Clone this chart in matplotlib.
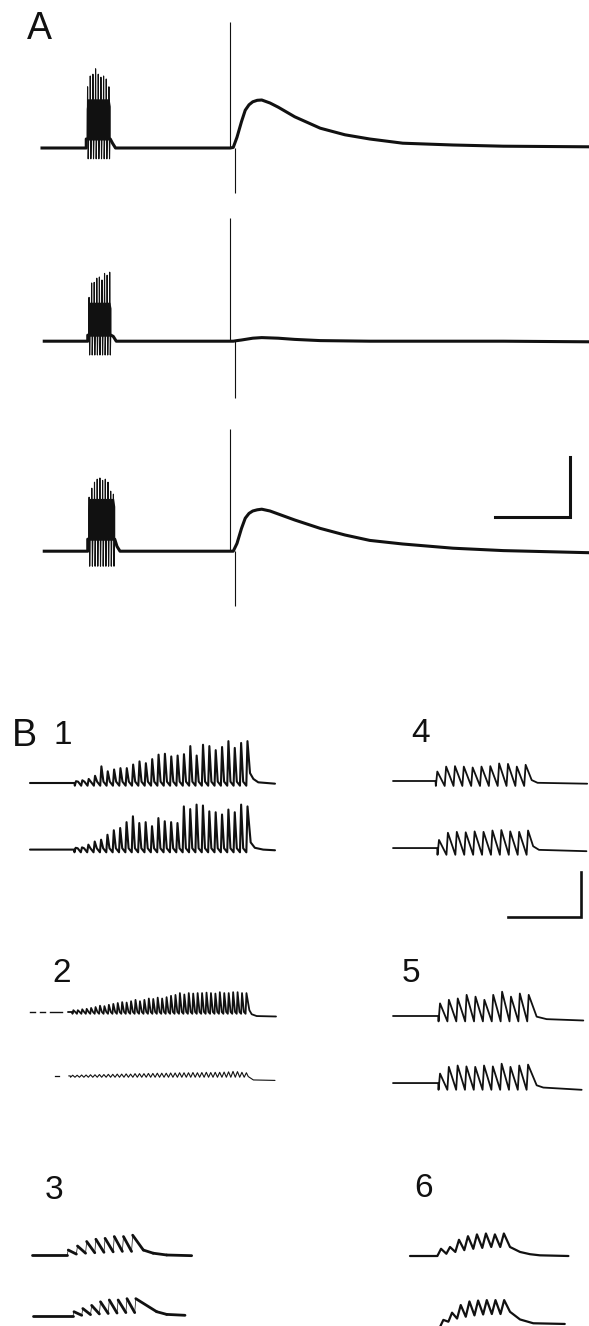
import numpy as np
import matplotlib.pyplot as plt
from matplotlib.collections import LineCollection

W, H = 589, 1326
INK = '#111111'

# ---------------- panel A (ms, mV) ----------------
A_offsets = [0.0, -32.2, -67.2]
A_start = [0, 3, 3]
A_burst_on = [59, 61, 61]
A_burst_off = [91, 92, 97]
A_spike_peaks = [
    [10.2, 12.0, 12.3, 13.2, 12.3, 11.8, 12.0, 11.5, 10.2],
    [7.3, 9.7, 9.8, 10.5, 10.7, 10.2, 11.3, 11.0, 11.5],
    [9.0, 10.5, 11.5, 12.0, 12.2, 11.8, 12.0, 11.5, 10.0, 9.5],
]
A_spike_trough = [-1.8, -2.3, -2.5]
A_body_lo = [1.5, 1.0, 2.0]
A_body_hi = [8.2, 6.5, 8.8]
A_stim_up_t, A_stim_dn_t = 251, 258
A_art_up = [21.0, 20.5, 20.3]
A_art_dn = [-7.5, -9.5, -9.2]
psp_t = [251, 255, 260, 266, 271, 276, 281, 287, 293, 304, 315, 337, 371, 404, 437, 481, 548, 615, 729]
A_psp = [
    [0, 0.1, 1.8, 4.4, 6.3, 7.2, 7.7, 7.95, 8.0, 7.5, 6.8, 5.2, 3.3, 2.2, 1.5, 0.8, 0.5, 0.3, 0.2],
    [0, 0, 0.1, 0.2, 0.3, 0.4, 0.5, 0.55, 0.6, 0.55, 0.5, 0.3, 0.1, 0.05, 0, 0, 0, 0, -0.1],
    [0, 0, 1.3, 3.8, 5.5, 6.3, 6.7, 6.9, 7.0, 6.7, 6.2, 5.2, 3.8, 2.7, 1.8, 1.2, 0.5, 0.1, -0.25],
]
A_bar_t = (604, 704)      # 100 ms
A_bar_v = (-61.5, -51.5)  # 10 mV

# ---------------- panel B (ms, mV) ----------------
B1_top = [0.4, 0.6, 0.9, 1.6, 3.7, 2.6, 3.0, 3.3, 3.3, 4.1, 4.8, 4.4, 5.3, 6.3,
          6.5, 5.9, 6.1, 6.4, 8.2, 6.1, 8.5, 8.2, 7.3, 8.0, 9.3, 7.8, 8.9, 9.3]
B1_bot = [0.4, 0.5, 1.1, 1.8, 2.2, 3.3, 4.3, 4.8, 6.1, 7.4, 5.9, 6.1, 5.2, 7.0,
          6.3, 6.1, 5.9, 9.6, 9.0, 10.0, 9.8, 8.5, 8.3, 7.8, 8.9, 8.3, 10.0, 9.6]
B1_tail_top = [(301.4, 2.2), (306, 0.9), (312.7, 0.15), (335.6, -0.15)]
B1_tail_bot = [(302.3, 1.6), (308, 0.4), (319.4, 0.0), (335.6, -0.15)]

B2_top = [0.4, 0.4, 0.6, 0.7, 0.9, 1.1, 1.4, 1.3, 1.6, 1.8, 2.0, 2.2, 2.1, 2.4,
          2.7, 2.4, 2.7, 3.0, 2.9, 3.2, 3.0, 3.3, 3.6, 3.8, 4.2, 3.9, 4.2, 4.1,
          4.2, 4.2, 4.3, 4.2, 4.1, 4.4, 4.2, 4.2, 4.4, 4.4, 4.2, 4.2]
B2_bot = [0.15, 0.15, 0.2, 0.2, 0.25, 0.25, 0.3, 0.3, 0.35, 0.35, 0.4, 0.4, 0.45,
          0.4, 0.5, 0.5, 0.5, 0.55, 0.55, 0.6, 0.6, 0.6, 0.65, 0.65, 0.7, 0.7,
          0.7, 0.75, 0.7, 0.75, 0.8, 0.75, 0.8, 0.8, 0.85, 0.9, 1.0, 0.95, 0.8, 0.7]
B2_pre_dash = [(0, 7), (14, 21), (27, 44)]
B2_tail_top = [(300.5, 0.4), (303.7, -0.5), (310.5, -0.9), (337, -1.0)]
B2_tail_bot = [(299, -0.15), (306, -0.9), (335.6, -1.0)]

B3_top = [1.1, 2.0, 3.0, 3.5, 3.7, 4.1, 4.1, 4.4]
B3_floor_top = [0, 0.2, 0.4, 0.5, 0.6, 0.7, 0.8, 0.8]
B3_bot = [1.0, 1.7, 2.4, 3.2, 3.6, 3.6, 3.9, 3.9]
B3_floor_bot = [0, 0.2, 0.35, 0.5, 0.6, 0.7, 0.8, 0.8]
B3_tail_top = [(152.5, 1.1), (166, 0.4), (184.5, 0.0), (218.7, -0.15)]
B3_tail_bot = [(170.8, 1.0), (184.5, 0.4), (209.6, 0.2)]

B4_top = [2.1, 3.2, 3.3, 3.2, 3.0, 3.2, 3.3, 3.9, 3.8, 3.2, 3.6]
B4_bot = [1.8, 3.4, 3.6, 3.5, 3.7, 3.6, 3.9, 4.0, 3.7, 3.6, 3.9]
B4_tail_top = [(190, 0.2), (198, -0.4), (266, -0.6)]
B4_tail_bot = [(192, 0.4), (200, -0.4), (265, -0.7)]

B5_top = [2.8, 3.6, 3.9, 4.7, 4.3, 3.6, 4.7, 5.4, 4.3, 5.0, 4.7]
B5_bot = [2.1, 3.6, 3.9, 3.7, 3.6, 3.9, 3.7, 4.3, 3.6, 3.9, 4.1]
B5_tail_top = [(196.8, -0.15), (210.5, -0.7), (260.7, -1.0)]
B5_tail_bot = [(196.8, -0.5), (205.9, -1.0), (258.4, -1.5)]

B6_top = [1.6, 2.0, 3.6, 4.4, 4.8, 5.0, 4.8, 5.0]
B6_floor_top = [0, 0.5, 0.9, 1.3, 1.6, 1.8, 2.0, 2.0]
B6_bot = [0.9, 2.5, 4.2, 5.0, 5.2, 5.3, 5.3, 5.3]
B6_floor_bot = [-0.8, 0.5, 1.2, 1.6, 1.9, 2.1, 2.2, 2.2]
B6_tail_top = [(137, 2.0), (150.7, 0.9), (164.4, 0.4), (178, 0.15), (217, 0)]
B6_tail_bot = [(137, 2.7), (150.7, 1.0), (168.9, 0.15), (212, 0)]

B_bar_t = (157.5, 257.5)  # 100 ms
B_bar_v = (-30.2, -20.2)  # 10 mV

fig = plt.figure(figsize=(W / 100, H / 100), dpi=100)


def place(left, top, right, bottom, x0, y0, pxms, pxmv):
    # axes laid out in figure pixels, data in ms / mV
    ax = fig.add_axes([left / W, 1 - bottom / H, (right - left) / W, (bottom - top) / H])
    ax.set_xlim((left - x0) / pxms, (right - x0) / pxms)
    ax.set_ylim((y0 - bottom) / pxmv, (y0 - top) / pxmv)
    ax.set_axis_off()
    return ax


def build(t_start, pre, first, period, peaks, floors, rise, fall=None, dip=0.0, tail=()):
    t = [t_start, first - rise - 0.4]
    v = [pre, pre]
    for i, a in enumerate(peaks):
        ti = first + i * period
        fl = floors[i] if np.ndim(floors) else floors
        t += [ti - rise, ti]
        v += [fl - dip, a]
        if fall is not None and i < len(peaks) - 1:
            t.append(ti + fall)
            v.append(fl)
    for tt, vv in tail:
        t.append(tt)
        v.append(vv)
    return np.array(t), np.array(v)


def draw(ax, tv, offset, lw, rise_lw=None):
    t, v = tv
    v = v + offset
    if rise_lw is None:
        ax.plot(t, v, color=INK, lw=lw, solid_joinstyle='round', solid_capstyle='round')
        return
    pts = np.column_stack([t, v])
    segs = np.stack([pts[:-1], pts[1:]], axis=1)
    slope = np.diff(v) / np.maximum(np.diff(t), 1e-6)
    widths = np.where(slope > 0.6, rise_lw, lw)
    ax.add_collection(LineCollection(segs, colors=INK, linewidths=widths, capstyle='round'))


# ---- A ----
axA = place(0, 0, W, 620, 42, 148, 0.75, 6.0)
for k in range(3):
    off = A_offsets[k]
    on, end = A_burst_on[k], A_burst_off[k]
    lo, hi = A_body_lo[k], A_body_hi[k]
    pk = A_spike_peaks[k]
    t = [A_start[k], on, on, end, end + 3, end + 7] + psp_t
    v = [0, 0, lo, lo, 0.8, 0] + A_psp[k]
    axA.plot(t, np.array(v) + off, color=INK, lw=2.2, solid_joinstyle='round')
    # dense part of the burst, slightly lower at its edges
    bt = [on, on + 1.5, end - 1.5, end]
    axA.fill_between(bt, lo + off, [hi * 0.8 + off, hi + off, hi + off, hi * 0.85 + off],
                     color=INK, lw=0)
    st, sv = [on], [lo]
    for i, a in enumerate(pk):
        ti = on + (end - on) * (i + 0.5) / len(pk)
        st += [ti - 0.5, ti, ti + 0.8, ti + 1.4]
        sv += [lo, a, A_spike_trough[k], lo]
    axA.plot(st, np.array(sv) + off, color=INK, lw=0.8)
    axA.vlines(A_stim_up_t, off, off + A_art_up[k], color=INK, lw=0.8)
    axA.vlines(A_stim_dn_t, off + A_art_dn[k], off, color=INK, lw=0.8)
axA.plot([A_bar_t[0], A_bar_t[1], A_bar_t[1]], [A_bar_v[0], A_bar_v[0], A_bar_v[1]],
         color=INK, lw=2.2, solid_joinstyle='miter')

# ---- B ----
PXMS, PXMV = 0.73, 4.5

ax1 = place(0, 690, 300, 880, 30, 783, PXMS, PXMV)
draw(ax1, build(0, 0, 63, 8.7, B1_top, 0.3, 1.6, fall=2.8, dip=0.9, tail=B1_tail_top), 0, 1.5)
draw(ax1, build(0, 0, 62.5, 8.72, B1_bot, 0.3, 1.6, fall=2.8, dip=0.9, tail=B1_tail_bot), -14.8, 1.5)

ax4 = place(380, 690, W, 930, 393, 781, PXMS, PXMV)
draw(ax4, build(0, 0, 60.7, 12.1, B4_top, -1.1, 2.0, tail=B4_tail_top), 0, 1.3)
draw(ax4, build(0, 0, 63, 12.2, B4_bot, -1.5, 2.0, tail=B4_tail_bot), -14.9, 1.3)
ax4.plot([B_bar_t[0], B_bar_t[1], B_bar_t[1]], [B_bar_v[0], B_bar_v[0], B_bar_v[1]],
         color=INK, lw=1.9, solid_joinstyle='miter')

ax2 = place(0, 930, 300, 1100, 30, 1012, PXMS, PXMV)
for a, b in B2_pre_dash:
    ax2.plot([a, b], [0, 0], color=INK, lw=1.0)
draw(ax2, build(52, 0, 59.4, 6.08, B2_top, 0, 1.2, fall=2.6, dip=0.4, tail=B2_tail_top), 0, 1.3)
ax2.plot([34, 40], [-14.2, -14.2], color=INK, lw=0.9)
draw(ax2, build(53, 0, 58.5, 6.1, B2_bot, -0.3, 3.0, tail=B2_tail_bot), -14.2, 0.8)

ax5 = place(380, 940, W, 1100, 393, 1016, PXMS, PXMV)
draw(ax5, build(0, 0, 64.4, 12.15, B5_top, -1.2, 2.0, tail=B5_tail_top), 0, 1.3)
draw(ax5, build(0, 0, 64.4, 12.06, B5_bot, -1.5, 2.0, tail=B5_tail_bot), -14.9, 1.3)

ax3 = place(0, 1150, 300, H, 32, 1255, PXMS, PXMV)
draw(ax3, build(0, 0, 49.7, 12.6, B3_top, B3_floor_top, 1.5, tail=B3_tail_top), 0, 2.0, rise_lw=0.5)
draw(ax3, build(1.8, 0, 57.5, 12.1, B3_bot, B3_floor_bot, 1.5, tail=B3_tail_bot), -13.6, 2.0, rise_lw=0.5)

ax6 = place(380, 1150, W, H, 410, 1256, PXMS, PXMV)
draw(ax6, build(0, 0, 42.5, 12.3, B6_top, B6_floor_top, 5.0, tail=B6_tail_top), 0, 1.6)
draw(ax6, build(0, -0.8, 45.7, 11.9, B6_bot, B6_floor_bot, 5.0, tail=B6_tail_bot), -15.1, 1.6)

# ---- labels ----
LETTER = ['Liberation Sans', 'DejaVu Sans']
DIGIT = ['Liberation Sans Narrow', 'Liberation Sans', 'DejaVu Sans']
labels = [('A', 27, 39, LETTER, 27), ('B', 12, 746, LETTER, 27), ('1', 54, 744, DIGIT, 24),
          ('4', 411, 742, DIGIT, 24), ('2', 52, 982, DIGIT, 24), ('5', 402, 982, DIGIT, 24),
          ('3', 45, 1199, DIGIT, 24), ('6', 414, 1197, DIGIT, 24)]
for s, x, y, fam, size in labels:
    fig.text(x / W, 1 - y / H, s, ha='left', va='baseline', family=fam, fontsize=size, color=INK)

fig.savefig('out.png', dpi=100)
